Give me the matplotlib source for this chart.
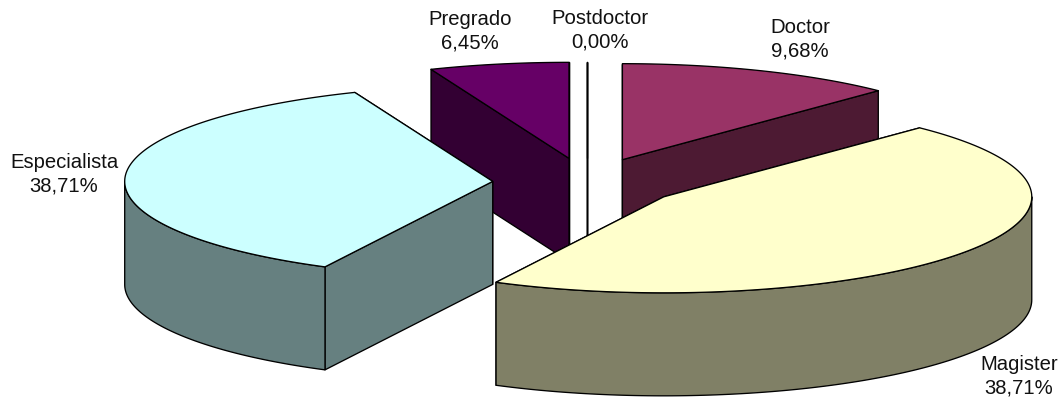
import numpy as np
import matplotlib
matplotlib.use("Agg")
import matplotlib.pyplot as plt
from matplotlib.patches import Polygon

categories = ["Doctor", "Magister", "Especialista", "Pregrado", "Postdoctor"]
percentages = [9.68, 38.71, 38.71, 6.45, 0.00]
top_colors = ["#993366", "#FFFFCC", "#CCFFFF", "#660066", "#FFFFFF"]
side_colors = ["#4D1A33", "#808066", "#668080", "#330033", "#FFFFFF"]
label_centers = [(800, 39), (1019, 376), (64, 174), (470, 31), (600, 30)]
paint_order = [3, 4, 0, 2, 1]

# Pie geometry in pixel units
CENTER = (587.0, 183.5)
RX, RY = 368.0, 96.0
DEPTH = 103.0
EXPLODE = 0.2565

# Foreshortening of the 3D view: true sweep angle -> angle on the drawn ellipse
TRUE_DEG = [0.0, 37.2, 186.2, 335.2, 360.0]
VIEW_DEG = [0.0, 44.0, 207.1, 338.0, 360.0]

plt.rcParams["font.family"] = ["Liberation Sans", "DejaVu Sans"]
fig = plt.figure(figsize=(10.61, 4.02), dpi=100)
ax = fig.add_axes([0, 0, 1, 1])
ax.set_xlim(0, 1061)
ax.set_ylim(402, 0)
ax.axis("off")

edges = np.concatenate([[0.0], np.cumsum(percentages)]) / np.sum(percentages) * 360.0
view_edges = np.interp(edges, TRUE_DEG, VIEW_DEG)


def rim(apex, deg):
    a = np.radians(deg)
    return np.column_stack([apex[0] + RX * np.sin(a), apex[1] - RY * np.cos(a)])


def extrude(points):
    lowered = points[::-1] + np.array([0.0, DEPTH])
    return np.vstack([points, lowered])


def draw_face(points, face, z):
    ax.add_patch(Polygon(points, closed=True, facecolor=face, edgecolor="black",
                         linewidth=0.95, joinstyle="round", zorder=z))


for rank, i in enumerate(paint_order):
    start, end = view_edges[i], view_edges[i + 1]
    mid = np.radians((start + end) / 2)
    apex = np.array([CENTER[0] + EXPLODE * RX * np.sin(mid),
                     CENTER[1] - EXPLODE * RY * np.cos(mid)])
    base_z = 2 + rank * 4

    # Cut faces, the rearmost first
    ends = sorted([start, end], key=lambda d: np.cos(np.radians(d)), reverse=True)
    for k, deg in enumerate(ends):
        cut = np.vstack([apex, rim(apex, deg)])
        draw_face(extrude(cut), side_colors[i], base_z + k * 0.5)

    # Outer wall, only where the rim faces the viewer
    lo, hi = max(start, 90.0), min(end, 270.0)
    if hi > lo:
        wall = rim(apex, np.linspace(lo, hi, 120))
        draw_face(extrude(wall), side_colors[i], base_z + 1)

    # Top surface
    arc = rim(apex, np.linspace(start, end, 200))
    draw_face(np.vstack([apex, arc]), top_colors[i], base_z + 2)

for name, pct, (x, y) in zip(categories, percentages, label_centers):
    text = f"{name}\n{pct:.2f}%".replace(".", ",")
    ax.text(x, y, text, ha="center", va="center", fontsize=14.6,
            color="#111111", linespacing=1.27, zorder=50)

fig.savefig("out.png", dpi=100, facecolor="white")
